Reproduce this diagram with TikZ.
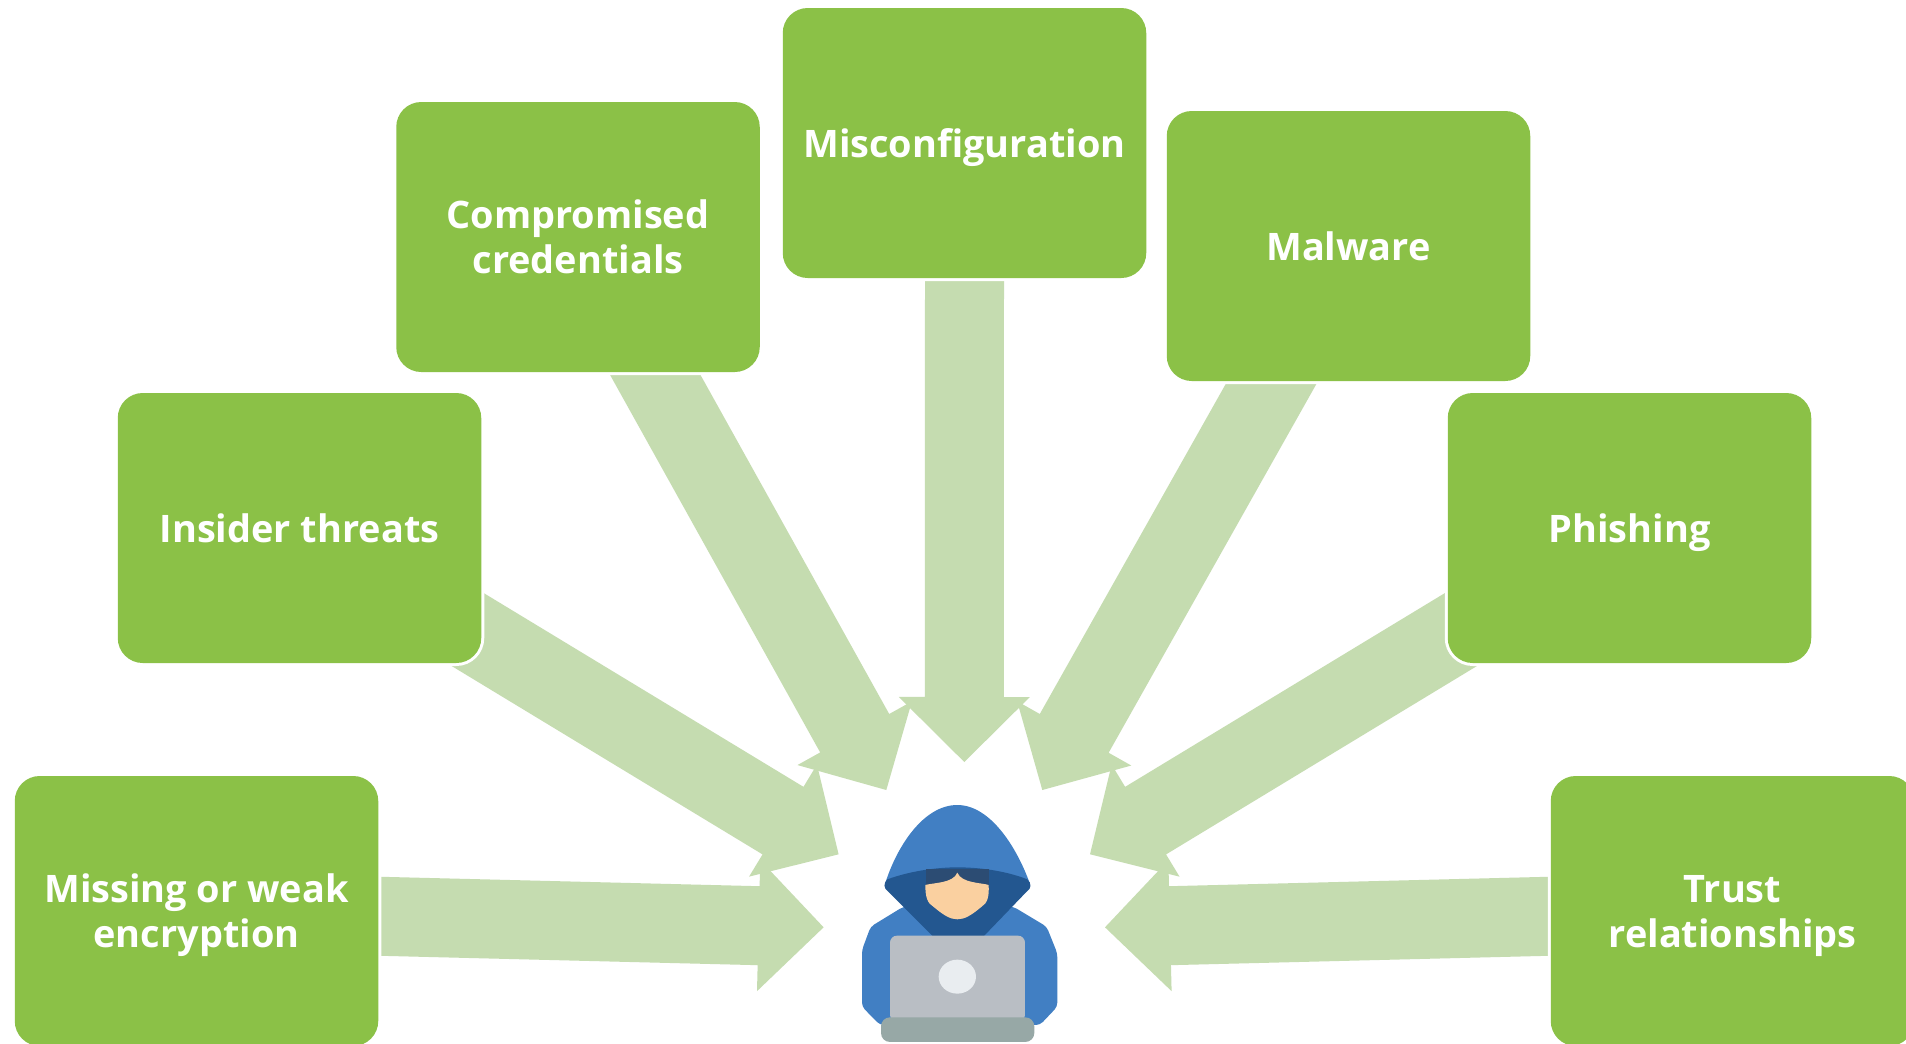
\documentclass[tikz,border=0pt]{standalone}
\usepackage{fontspec}
\setmainfont{Open Sans}
\newfontfamily\labelface{Open Sans}[BoldFont={Open Sans Bold},BoldFeatures={}]
\usetikzlibrary{calc}
\pgfdeclarelayer{bg}
\pgfsetlayers{bg,main}
\definecolor{boxgreen}{HTML}{8BC147}
\definecolor{armgreen}{HTML}{C5DCB0}
\definecolor{hoodblue}{HTML}{417FC3}
\definecolor{hooddark}{HTML}{235790}
\definecolor{shades}{HTML}{2C4C73}
\definecolor{skin}{HTML}{FAD0A0}
\definecolor{lapgray}{HTML}{B9BEC4}
\definecolor{lapbase}{HTML}{97A8A6}
\definecolor{lapdot}{HTML}{E9EDF0}
\tikzset{
  threat/.style={rectangle,rounded corners=25pt,fill=boxgreen,
    preaction={draw=white,line width=6pt},
    minimum width=363.5pt,minimum height=270pt,inner sep=0pt,outer sep=0pt,
    text=white,align=center,text depth=0pt,font=\labelface\fontsize{37.9}{45}\selectfont\bfseries},
  blockfill/.style={fill=armgreen,draw=none}
}
\newcommand{\blockarrow}[2]{%
  \coordinate (nk) at ($(#2)!65pt!(#1)$);
  \fill[blockfill]
    ($(#1)!39.5pt!90:(#2)$) -- ($(nk)!39.5pt!90:(#2)$) -- ($(nk)!65.5pt!90:(#2)$)
    -- (#2)
    -- ($(nk)!65.5pt!-90:(#2)$) -- ($(nk)!39.5pt!-90:(#2)$) -- ($(#1)!39.5pt!-90:(#2)$) -- cycle;
}
\begin{document}
\begin{tikzpicture}[x=1pt,y=-1pt]
\useasboundingbox (0,0) rectangle (1906,1044);
\node[threat] (missing) at (196.5,911) {Missing or weak\\encryption};
\node[threat] (insider) at (299.5,528) {Insider threats};
\node[threat] (comp) at (578,237) {Compromised\\credentials};
\node[threat] (misconf) at (964.5,143) {Misconfiguration};
\node[threat] (malware) at (1348.5,246) {Malware};
\node[threat] (phishing) at (1629.5,528) {Phishing};
\node[threat] (trust) at (1732.5,911) {Trust\\relationships};
\coordinate (tipA) at (823.6,927.3);
\coordinate (tipB) at (838.6,854.3);
\coordinate (tipC) at (886.3,790);
\coordinate (tipD) at (964.3,762);
\coordinate (tipE) at (1042.3,790);
\coordinate (tipF) at (1090,854.3);
\coordinate (tipG) at (1105,927.3);
\coordinate (sA) at ($(missing.east)+(-9,5)$);
\coordinate (sB) at ($(insider.south east)+(-52.4,-57)$);
\coordinate (sC) at ($(comp.south)+(63.4,-22)$);
\coordinate (sD) at ($(misconf.south)+(0,-8)$);
\coordinate (sE) at ($(malware.south)+(-58.3,-31)$);
\coordinate (sF) at ($(phishing.south west)+(52,-57)$);
\coordinate (sG) at ($(trust.west)+(9,5)$);
\begin{pgfonlayer}{bg}
\fill[white] (0,0) rectangle (1906,1044);
\blockarrow{sA}{tipA}
\blockarrow{sB}{tipB}
\blockarrow{sC}{tipC}
\blockarrow{sD}{tipD}
\blockarrow{sE}{tipE}
\blockarrow{sF}{tipF}
\blockarrow{sG}{tipG}
\end{pgfonlayer}
% hacker figure, in crop units (3 per pixel)
\begin{scope}[shift={(850,790)},x=0.3333pt,y=-0.3333pt]
\fill[hoodblue,rounded corners=4pt] (36,650) -- (36,480) -- (62,410) -- (160,350) -- (490,350)
  -- (590,410) -- (622,490) -- (622,650) -- (570,705) -- (90,705) -- cycle;
\fill[hoodblue] (105,282) .. controls (140,170) and (220,45) .. (322,45)
  .. controls (420,45) and (500,170) .. (540,282) -- cycle;
\fill[hooddark] (112,268) .. controls (190,240) and (270,232) .. (322,232)
  .. controls (380,232) and (460,240) .. (532,268)
  .. controls (545,280) and (545,295) .. (530,305)
  -- (400,440) -- (250,440) -- (115,305)
  .. controls (100,295) and (100,280) .. (112,268) -- cycle;
\fill[shades] (228,237) -- (418,237) -- (418,285) -- (228,285) -- cycle;
\fill[skin] (226,285) .. controls (250,278) and (310,280) .. (322,248)
  .. controls (335,280) and (395,278) .. (416,285)
  .. controls (418,320) and (412,340) .. (395,350)
  .. controls (365,375) and (345,388) .. (322,388)
  .. controls (300,388) and (280,375) .. (250,350)
  .. controls (232,340) and (226,320) .. (226,285) -- cycle;
\fill[lapgray,rounded corners=7pt] (120,437) rectangle (525,695);
\fill[lapdot] (322,560) ellipse [x radius=56,y radius=51];
\fill[lapbase,rounded corners=9pt] (93,682) rectangle (553,756);
\end{scope}
\end{tikzpicture}
\end{document}
